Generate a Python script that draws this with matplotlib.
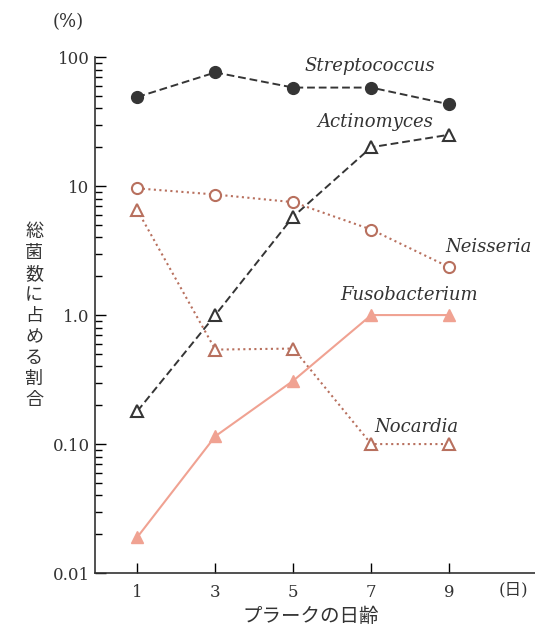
import matplotlib.pyplot as plt
from matplotlib.ticker import FixedLocator, LogLocator, NullFormatter

plt.rcParams['font.family'] = ['DejaVu Serif', 'Noto Sans CJK JP', 'DejaVu Sans']

days = [1, 3, 5, 7, 9]
streptococcus = [49, 76, 58, 58, 43]
actinomyces = [0.18, 1.0, 5.8, 20, 25]
neisseria = [9.6, 8.6, 7.5, 4.6, 2.35]
nocardia = [6.5, 0.54, 0.55, 0.1, 0.1]
fusobacterium = [0.019, 0.115, 0.31, 1.0, 1.0]

yticks = [0.01, 0.1, 1, 10, 100]
yticklabels = ['0.01', '0.10', '1.0', '10', '100']

dark = '#353535'
brown = '#b8705e'
salmon = '#f0a292'
text_col = '#333333'

fig = plt.figure(figsize=(5.35, 6.27), dpi=100)
ax = fig.add_axes([0.178, 0.086, 0.822, 0.823])

ax.plot(days, streptococcus, linestyle='--', dashes=(4, 2), color=dark, lw=1.4,
        marker='o', markersize=8.5, markerfacecolor=dark, markeredgecolor=dark)
ax.plot(days, actinomyces, linestyle='--', dashes=(4, 2), color=dark, lw=1.4,
        marker='^', markersize=8, markerfacecolor='white', markeredgecolor=dark, markeredgewidth=1.5)
ax.plot(days, neisseria, linestyle=':', color=brown, lw=1.5,
        marker='o', markersize=8, markerfacecolor='white', markeredgecolor=brown, markeredgewidth=1.5)
ax.plot(days, nocardia, linestyle=':', color=brown, lw=1.5,
        marker='^', markersize=8, markerfacecolor='white', markeredgecolor=brown, markeredgewidth=1.5)
ax.plot(days, fusobacterium, linestyle='-', color=salmon, lw=1.5,
        marker='^', markersize=8, markerfacecolor=salmon, markeredgecolor=salmon)

ax.set_yscale('log')
ax.set_ylim(0.01, 100)
ax.set_xlim(-0.08, 11.2)
ax.yaxis.set_major_locator(FixedLocator(yticks))
ax.set_yticklabels(yticklabels)
ax.yaxis.set_minor_locator(LogLocator(base=10, subs=range(2, 10)))
ax.yaxis.set_minor_formatter(NullFormatter())
ax.set_xticks(days)

ax.tick_params(axis='y', which='major', direction='in', length=8, width=1, labelsize=12,
               pad=4, labelcolor=text_col)
ax.tick_params(axis='y', which='minor', direction='in', length=5, width=1)
ax.tick_params(axis='x', direction='in', length=7, width=1, labelsize=12, pad=8,
               labelcolor=text_col)

for side in ['top', 'right']:
    ax.spines[side].set_visible(False)
for side in ['left', 'bottom']:
    ax.spines[side].set_linewidth(1.2)
    ax.spines[side].set_color('#333333')

# series names (left edge, vertical centre)
labels = [('Streptococcus', 5.3, 85), ('Actinomyces', 5.62, 31.5),
          ('Neisseria', 8.9, 3.35), ('Fusobacterium', 6.2, 1.43),
          ('Nocardia', 7.08, 0.135)]
for name, x, y in labels:
    ax.text(x, y, name, style='italic', fontsize=13, color=text_col, va='center', ha='left')

fig.text(0.127, 0.965, '(%)', fontsize=13, ha='center', va='center', color=text_col)

ylabel = '総菌数に占める割合'
for i, ch in enumerate(ylabel):
    fig.text(34 / 535, 1 - (232 + i * 21) / 627, ch, fontsize=13, ha='center', va='center',
             color=text_col)

fig.text(311 / 535, 1 - 617 / 627, 'プラークの日齢', fontsize=14, ha='center', va='center',
         color=text_col)
fig.text(513 / 535, 1 - 590 / 627, '(日)', fontsize=12, ha='center', va='center', color=text_col)

fig.savefig('out.png', dpi=100)
